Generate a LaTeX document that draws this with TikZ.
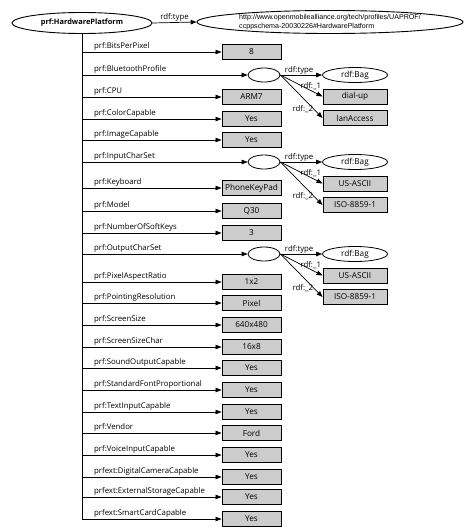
\documentclass[tikz,border=0pt]{standalone}
\usepackage{fontspec}
\setmainfont{Open Sans}
\newfontfamily\urlfont{Liberation Sans}
\usetikzlibrary{arrows.meta,shapes.geometric}
\begin{document}
\begin{tikzpicture}[x=1pt,y=-1pt,
  arr/.style={draw=black,line width=0.7pt,-{Triangle[length=6pt,width=4.5pt]}},
  ln/.style={draw=black,line width=0.8pt},
  valbox/.style={draw=black,line width=0.9pt,fill=black!20,minimum width=59pt,minimum height=15pt,inner sep=0pt,font=\fontsize{8.2}{9}\selectfont},
  bagbox/.style={valbox,minimum width=64pt},
  blank/.style={ellipse,draw=black,line width=0.8pt,minimum width=32pt,minimum height=14pt,inner sep=0pt},
  bagell/.style={ellipse,draw=black,line width=0.8pt,minimum width=65pt,minimum height=15pt,inner sep=0pt,font=\fontsize{8.2}{9}\selectfont},
  lab/.style={font=\fontsize{7.8}{8}\selectfont,inner sep=0.8pt},
  slab/.style={font=\fontsize{7.8}{8}\selectfont,inner sep=0.6pt}
]
\useasboundingbox (0,0) rectangle (467,527);
% top
\node[ellipse,draw=black,line width=0.9pt,minimum width=140pt,minimum height=21pt,inner sep=0pt,font=\bfseries\fontsize{7.4}{9}\selectfont] (hp) at (82,23) {prf:HardwarePlatform};
\node[ellipse,draw=black,line width=0.9pt,minimum width=266pt,minimum height=23pt,inner sep=0pt,align=left,font=\urlfont\fontsize{7.1}{9.5}\selectfont] (ty) at (330,22) {http://www.openmobilealliance.org/tech/profiles/UAPROF/\\ccppschema-20030226\#HardwarePlatform};
\draw[arr] (hp.east) -- node[slab,above,pos=0.5]{rdf:type} (ty.west);
\coordinate (tend) at (82,519);
\draw[ln] (hp.south) -- (tend);
% plain rows
\foreach \i/\y/\l/\v in {1/52/prf:BitsPerPixel/8,3/97/prf:CPU/ARM7,4/119/prf:ColorCapable/Yes,5/140/prf:ImageCapable/Yes,7/188/prf:Keyboard/PhoneKeyPad,8/211/prf:Model/Q30,9/233/prf:NumberOfSoftKeys/3,11/282/prf:PixelAspectRatio/1x2,12/303/prf:PointingResolution/Pixel,13/325/prf:ScreenSize/640x480,14/347/prf:ScreenSizeChar/16x8,15/368/prf:SoundOutputCapable/Yes,16/390/prf:StandardFontProportional/Yes,17/412/prf:TextInputCapable/Yes,18/433/prf:Vendor/Ford,19/455/prf:VoiceInputCapable/Yes,20/477/prfext:DigitalCameraCapable/Yes,21/497/prfext:ExternalStorageCapable/Yes,22/519/prfext:SmartCardCapable/Yes}{
  \coordinate (t\i) at (82,\y);
  \node[valbox] (b\i) at (251.5,\y) {\v};
  \draw[arr] (t\i) -- node[lab,pos=0,anchor=south west,xshift=11pt]{\l} (b\i.west);
}
% bag rows
\foreach \i/\y/\l/\va/\vb in {2/75/prf:BluetoothProfile/dial-up/lanAccess,6/162/prf:InputCharSet/US-ASCII/ISO-8859-1,10/254/prf:OutputCharSet/US-ASCII/ISO-8859-1}{
  \coordinate (t\i) at (82,\y);
  \node[blank] (e\i) at (264,\y) {};
  \draw[arr] (t\i) -- node[lab,pos=0,anchor=south west,xshift=11pt]{\l} (e\i.west);
  \node[bagell] (g\i) at (355,\y) {rdf:Bag};
  \node[bagbox] (p\i) at (355,\y+21.5) {\va};
  \node[bagbox] (q\i) at (355,\y+43) {\vb};
  \draw[arr] (e\i.east) -- node[slab,above,pos=0.45]{rdf:type} (g\i.west);
  \draw[arr] (e\i.east) -- node[slab,pos=0.72,above]{rdf:\_1} (p\i.west);
  \draw[arr] (e\i.east) -- node[slab,pos=0.8,left]{rdf:\_2} (q\i.west);
}
\end{tikzpicture}
\end{document}
